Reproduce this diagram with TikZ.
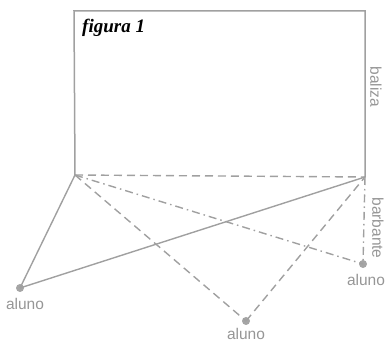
\documentclass[tikz,border=0pt]{standalone}
\usepackage{fontspec}
\setmainfont{Liberation Serif}
\newfontfamily\lblfont{Liberation Sans}
\begin{document}
\begin{tikzpicture}[x=1pt,y=1pt,
  line/.style={draw=linegray, line width=1.4pt},
  dashedline/.style={line, dash pattern=on 8pt off 5pt},
  dashdotline/.style={line, dash pattern=on 8pt off 4pt on 1.5pt off 4pt},
  student/.style={circle, fill=dotgray, inner sep=0pt, minimum size=8pt},
  lbl/.style={text=textgray, font=\lblfont\fontsize{15.5}{17}\selectfont, inner sep=0pt}
]
\definecolor{linegray}{RGB}{160,160,160}
\definecolor{dotgray}{RGB}{165,165,165}
\definecolor{textgray}{RGB}{150,150,150}
\useasboundingbox (0,0) rectangle (389,343);
% post corners
\coordinate (A) at (75,168);
\coordinate (B) at (365,166);
\coordinate (TL) at (74,332);
\coordinate (TR) at (365,332);
% rectangle (baliza)
\draw[line, line width=1.5pt] (A) -- (TL) -- (TR) -- (B);
% students
\node[student] (L) at (20,55) {};
\node[student] (M) at (246,22) {};
\node[student] (R) at (363,79) {};
% connectors
\draw[line] (A) -- (L.center);
\draw[line] (L.center) -- (B);
\draw[dashedline] (A) -- (B);
\draw[dashedline] (A) -- (M.center);
\draw[dashedline] (M.center) -- (B);
\draw[dashdotline] (A) -- (R.center);
\draw[dashdotline] (B) -- (R.center);
% labels
\node[lbl] (lL) at (25,39) {aluno};
\node[lbl] (lM) at (246,9) {aluno};
\node[lbl] (lR) at (366,63) {aluno};
\node[lbl, rotate=-90] (lbaliza) at (376,256) {baliza};
\node[lbl, rotate=-90] (lbarb) at (378,115) {barbante};
\node[anchor=base west, inner sep=0pt, font=\bfseries\itshape\fontsize{19}{21}\selectfont] (fig) at (82,310) {figura 1};
\end{tikzpicture}
\end{document}
